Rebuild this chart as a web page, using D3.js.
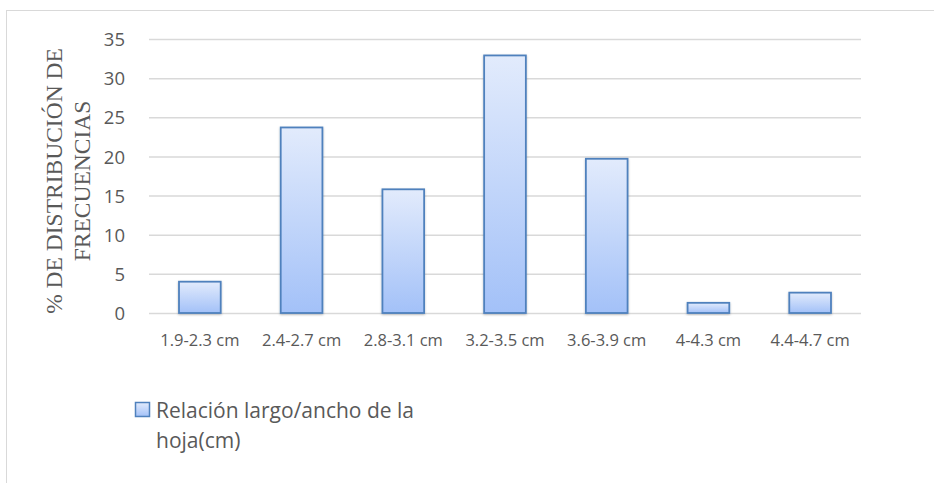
<!DOCTYPE html>
<html>
<head>
<meta charset="utf-8">
<script src="https://cdn.jsdelivr.net/npm/d3@7"></script>
<style>
  html, body { margin: 0; padding: 0; background: #fff; }
  svg { display: block; }
</style>
</head>
<body>
<svg id="chart" width="934" height="483"></svg>
<script>
// Categories: leaf length/width ratio classes
const categories = ["1.9-2.3 cm", "2.4-2.7 cm", "2.8-3.1 cm", "3.2-3.5 cm", "3.6-3.9 cm", "4-4.3 cm", "4.4-4.7 cm"];
// Frequency distribution (%)
const values = [4.0, 23.7, 15.8, 32.9, 19.7, 1.3, 2.6];
const yTicks = [0, 5, 10, 15, 20, 25, 30, 35];
const seriesName = ["Relación largo/ancho de la", "hoja(cm)"];
const yTitle = ["% DE DISTRIBUCIÓN DE", "FRECUENCIAS"];

const svg = d3.select("#chart");
const W = 934, H = 483;
const plot = { left: 149, right: 861, top: 39, bottom: 313 };
const sans = "'Open Sans', Lato, sans-serif";
const textGrey = "#595959";

// Outer frame of the chart area
svg.append("rect")
  .attr("x", 6.5).attr("y", 10.5)
  .attr("width", W).attr("height", H)
  .attr("fill", "#fff").attr("stroke", "#d9d9d9").attr("stroke-width", 1);

const defs = svg.append("defs");
const grad = defs.append("linearGradient")
  .attr("id", "barFill").attr("x1", 0).attr("y1", 0).attr("x2", 0).attr("y2", 1);
grad.append("stop").attr("offset", "0%").attr("stop-color", "#e2ebfc");
grad.append("stop").attr("offset", "100%").attr("stop-color", "#a3c1f8");

const shadow = defs.append("filter").attr("id", "shadow")
  .attr("x", "-20%").attr("y", "-20%").attr("width", "140%").attr("height", "140%");
shadow.append("feDropShadow")
  .attr("dx", 0).attr("dy", 1).attr("stdDeviation", 1.2)
  .attr("flood-color", "#000").attr("flood-opacity", 0.25);

const x = d3.scaleBand().domain(categories)
  .range([plot.left, plot.right]).paddingInner(0.59).paddingOuter(0.295);
const y = d3.scaleLinear().domain([0, 35]).range([plot.bottom, plot.top]);

// Horizontal gridlines + y tick labels
const yAxis = d3.axisLeft(y).tickValues(yTicks)
  .tickSize(-(plot.right - plot.left)).tickPadding(24).tickFormat(d3.format("d"));
const gy = svg.append("g").attr("transform", `translate(${plot.left},0)`).call(yAxis);
gy.select(".domain").remove();
gy.selectAll(".tick line").attr("stroke", "#d9d9d9").attr("stroke-width", 1.5);
gy.selectAll(".tick text")
  .attr("fill", textGrey).attr("font-family", sans)
  .attr("font-size", 18.5).attr("dy", "0.36em");

// Bars
svg.append("g").selectAll("rect").data(values).join("rect")
  .attr("x", (d, i) => x(categories[i]))
  .attr("y", d => y(d))
  .attr("width", x.bandwidth())
  .attr("height", d => y(0) - y(d))
  .attr("fill", "url(#barFill)")
  .attr("stroke", "#4f81bd").attr("stroke-width", 1.8)
  .attr("filter", "url(#shadow)");

// X axis labels
const xAxis = d3.axisBottom(x).tickSize(0).tickPadding(0);
const gx = svg.append("g").attr("transform", `translate(0,${plot.bottom})`).call(xAxis);
gx.select(".domain").remove();
gx.selectAll(".tick text")
  .attr("fill", textGrey).attr("font-family", sans)
  .attr("font-size", 16.5).attr("y", 33).attr("dy", 0);

// Y axis title (two rotated lines)
const yt = svg.append("text")
  .attr("transform", `translate(62,181) rotate(-90)`)
  .attr("text-anchor", "middle")
  .attr("fill", textGrey).attr("font-family", "'Liberation Serif', 'Times New Roman', serif")
  .attr("font-size", 23.5);
yt.selectAll("tspan").data(yTitle).join("tspan")
  .attr("x", 0).attr("dy", (d, i) => i === 0 ? 0 : 28)
  .text(d => d);

// Legend
const lg = svg.append("g");
lg.append("rect")
  .attr("x", 135.5).attr("y", 402.5).attr("width", 14).attr("height", 14)
  .attr("fill", "url(#barFill)").attr("stroke", "#4f81bd").attr("stroke-width", 1.5);
const lt = lg.append("text")
  .attr("fill", textGrey).attr("font-family", sans)
  .attr("font-size", 21);
lt.selectAll("tspan").data(seriesName).join("tspan")
  .attr("x", 156).attr("y", (d, i) => 418 + i * 30)
  .text(d => d);
</script>
</body>
</html>
